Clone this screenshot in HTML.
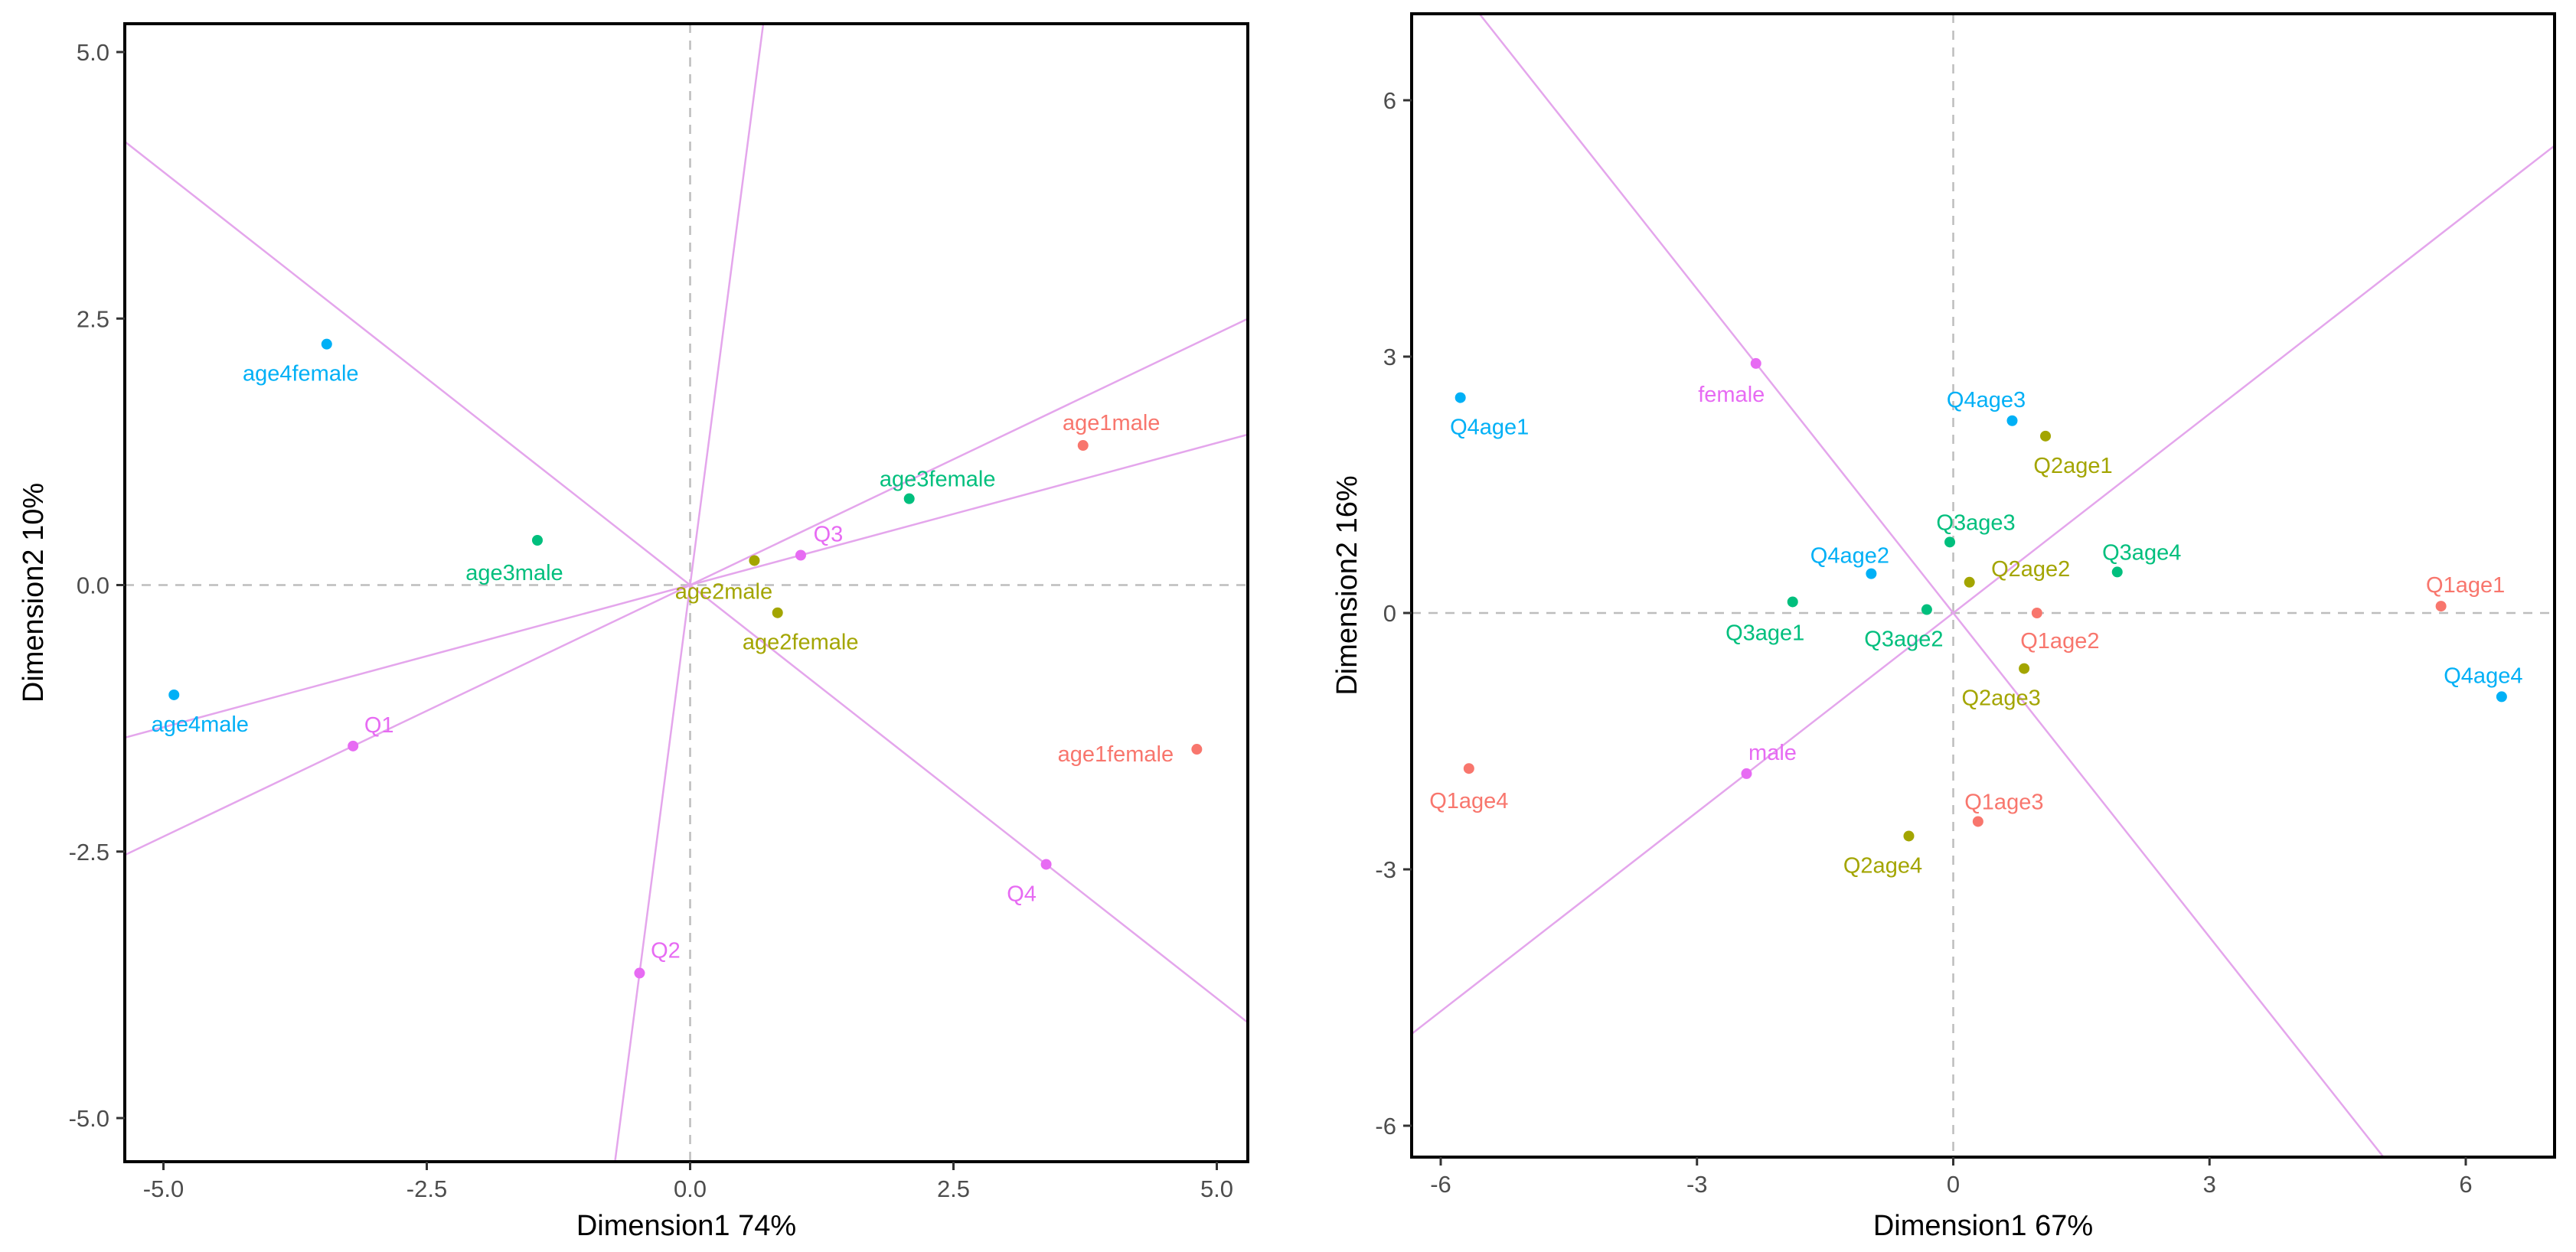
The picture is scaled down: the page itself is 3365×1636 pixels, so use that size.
<!DOCTYPE html>
<html><head><meta charset="utf-8">
<style>
html,body{margin:0;padding:0;background:#fff;width:3365px;height:1636px;overflow:hidden;}
svg{display:block;}
text{font-family:"Liberation Sans",Arial,sans-serif;}
</style></head>
<body>
<svg id="chart" width="3365" height="1636" viewBox="0 0 3365 1636" xmlns="http://www.w3.org/2000/svg">
<rect x="0" y="0" width="3365" height="1636" fill="#fff"/>
</svg>
<script>
// ---- Left panel data ----
const leftNames = ["age4female","age1male","age3female","age3male","Q3","age2male","age2female","age4male","Q1","age1female","Q4","Q2"];
const leftX = [-3.45,3.73,2.08,-1.45,1.05,0.61,0.83,-4.90,-3.20,4.81,3.38,-0.48];
const leftY = [2.26,1.31,0.81,0.42,0.28,0.23,-0.26,-1.03,-1.51,-1.54,-2.62,-3.64];
const leftGroup = [3,0,2,2,4,1,1,3,4,0,4,4];
const leftLabelDX = [-34,37,37,-30,36,-40,30,34,34,-106,-32,34];
const leftLabelDY = [38,-30,-26,42,-28,40,38,38,-28,6,38,-30];
const leftLines = ["Q1","Q2","Q3","Q4"];
const leftXTicks = [-5.0,-2.5,0.0,2.5,5.0];
const leftYTicks = [-5.0,-2.5,0.0,2.5,5.0];
const leftXTickLabels = ["-5.0","-2.5","0.0","2.5","5.0"];
const leftYTickLabels = ["-5.0","-2.5","0.0","2.5","5.0"];

// ---- Right panel data ----
const rightNames = ["Q4age1","female","Q4age3","Q2age1","Q3age3","Q3age4","Q4age2","Q2age2","Q3age1","Q3age2","Q1age1","Q1age2","Q2age3","Q4age4","male","Q1age4","Q1age3","Q2age4"];
const rightX = [-5.77,-2.31,0.69,1.08,-0.04,1.92,-0.96,0.19,-1.88,-0.31,5.71,0.98,0.83,6.42,-2.42,-5.67,0.29,-0.52];
const rightY = [2.52,2.92,2.25,2.07,0.83,0.48,0.46,0.36,0.13,0.04,0.08,0.00,-0.65,-0.98,-1.88,-1.82,-2.44,-2.61];
const rightGroup = [3,4,3,1,2,2,3,1,2,2,0,0,1,3,4,0,0,1];
const rightLabelDX = [38,-32,-34,36,34,32,-28,80,-36,-30,32,30,-30,-24,34,0,34,-34];
const rightLabelDY = [38,40,-28,38,-26,-26,-24,-18,40,38,-28,36,38,-28,-28,42,-26,38];
const rightLines = ["female","male"];
const rightXTicks = [-6,-3,0,3,6];
const rightYTicks = [-6,-3,0,3,6];
const rightXTickLabels = ["-6","-3","0","3","6"];
const rightYTickLabels = ["-6","-3","0","3","6"];

const palette = ["#F8766D","#A3A500","#00BF7D","#00B0F6","#E76BF3"];
const NS = "http://www.w3.org/2000/svg";
const svg = document.getElementById("chart");

function mk(tag, attrs, parent){
  const e = document.createElementNS(NS, tag);
  for (const k in attrs) e.setAttribute(k, attrs[k]);
  (parent||svg).appendChild(e);
  return e;
}

function panel(cfg){
  const g = mk("g", {});
  
  
  const px0 = cfg.px0, px1 = cfg.px1, py0 = cfg.py0, py1 = cfg.py1;
  const sx = v => cfg.xa + (v - cfg.xva) * (cfg.xb - cfg.xa) / (cfg.xvb - cfg.xva);
  const sy = v => cfg.ya + (v - cfg.yva) * (cfg.yb - cfg.ya) / (cfg.yvb - cfg.yva);
  const clipId = cfg.id + "-clip";
  const defs = mk("defs", {}, g);
  const cp = mk("clipPath", {id: clipId}, defs);
  mk("rect", {x: px0, y: py0, width: px1-px0, height: py1-py0}, cp);
  const plot = mk("g", {"clip-path": "url(#"+clipId+")"}, g);
  
  
  const zh = mk("line", {x1: px0, x2: px1, y1: sy(0), y2: sy(0), stroke: "#bdbdbd", "stroke-width": 2.5, "stroke-dasharray": "12 10"}, plot);
  
  
  const zv = mk("line", {x1: sx(0), x2: sx(0), y1: py0, y2: py1, stroke: "#bdbdbd", "stroke-width": 2.5, "stroke-dasharray": "12 10"}, plot);
  
  
  const ox = sx(0), oy = sy(0);
  cfg.lines.forEach(nm => {
    const i = cfg.names.indexOf(nm);
    const dx = sx(cfg.x[i]) - ox, dy = sy(cfg.y[i]) - oy;
    // parametric extents within the panel box (in pixel space)
    function tmax(sgn){
      let t = Infinity;
      const ddx = dx*sgn, ddy = dy*sgn;
      if (ddx > 0) t = Math.min(t, (px1 - ox)/ddx); else if (ddx < 0) t = Math.min(t, (px0 - ox)/ddx);
      if (ddy > 0) t = Math.min(t, (py1 - oy)/ddy); else if (ddy < 0) t = Math.min(t, (py0 - oy)/ddy);
      return t;
    }
    const tp = tmax(1), tn = tmax(-1);
    const ln = mk("line", {x1: ox - dx*tn, y1: oy - dy*tn, x2: ox + dx*tp, y2: oy + dy*tp, stroke: "#e4a6ec", "stroke-width": 2.5}, plot);
    
    
  });
  cfg.names.forEach((nm, i) => {
    const cx = sx(cfg.x[i]), cy = sy(cfg.y[i]);
    const col = palette[cfg.group[i]];
    const c = mk("circle", {cx: cx, cy: cy, r: 7, fill: col}, plot);
    
    
    const t = mk("text", {x: cx + cfg.ldx[i], y: cy + cfg.ldy[i] + 10, "text-anchor": "middle", "font-size": 29, fill: col}, plot);
    t.textContent = nm;
    
    
  });
  const br = mk("rect", {x: px0, y: py0, width: px1-px0, height: py1-py0, fill: "none", stroke: "#000", "stroke-width": 4}, g);
  
  
  cfg.xticks.forEach((v, i) => {
    const x = sx(v);
    const tk = mk("line", {x1: x, x2: x, y1: py1, y2: py1 + 11, stroke: "#333", "stroke-width": 3}, g);
    
    
    const t = mk("text", {x: x, y: py1 + 46, "text-anchor": "middle", "font-size": 31, fill: "#4d4d4d"}, g);
    t.textContent = cfg.xtl[i];
    
    
  });
  cfg.yticks.forEach((v, i) => {
    const y = sy(v);
    const tk = mk("line", {x1: px0 - 11, x2: px0, y1: y, y2: y, stroke: "#333", "stroke-width": 3}, g);
    
    
    const t = mk("text", {x: px0 - 20, y: y + 11, "text-anchor": "end", "font-size": 31, fill: "#4d4d4d"}, g);
    t.textContent = cfg.ytl[i];
    
    
  });
  const xt = mk("text", {x: (px0+px1)/2, y: 1614, "text-anchor": "middle", "font-size": 38, fill: "#000"}, g);
  xt.textContent = cfg.xtitle;
  
  
  const yc = (py0+py1)/2;
  const yt = mk("text", {x: cfg.ytitleX, y: yc, "text-anchor": "middle", "font-size": 38, fill: "#000", transform: "rotate(-90 " + cfg.ytitleX + " " + yc + ")"}, g);
  yt.textContent = cfg.ytitle;
  
  
}

panel({id: "left", px0: 163, px1: 1630, py0: 31, py1: 1518,
  xa: 213.5, xva: -5, xb: 1589.5, xvb: 5,
  ya: 68, yva: 5, yb: 1461, yvb: -5,
  names: leftNames, x: leftX, y: leftY, group: leftGroup, ldx: leftLabelDX, ldy: leftLabelDY,
  lines: leftLines, xticks: leftXTicks, yticks: leftYTicks, xtl: leftXTickLabels, ytl: leftYTickLabels,
  xtitle: "Dimension1 74%", ytitle: "Dimension2 10%", ytitleX: 56});

panel({id: "right", px0: 1844, px1: 3337, py0: 18, py1: 1512,
  xa: 1882, xva: -6, xb: 3221, xvb: 6,
  ya: 131, yva: 6, yb: 1471, yvb: -6,
  names: rightNames, x: rightX, y: rightY, group: rightGroup, ldx: rightLabelDX, ldy: rightLabelDY,
  lines: rightLines, xticks: rightXTicks, yticks: rightYTicks, xtl: rightXTickLabels, ytl: rightYTickLabels,
  xtitle: "Dimension1 67%", ytitle: "Dimension2 16%", ytitleX: 1772});
</script>
</body></html>
